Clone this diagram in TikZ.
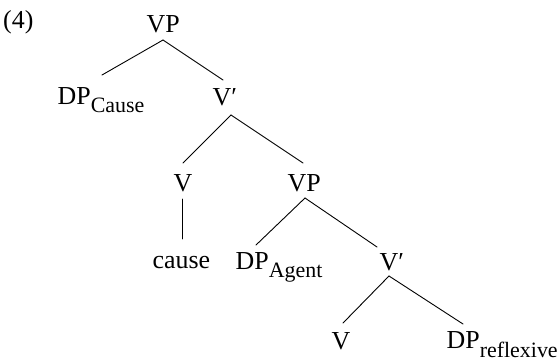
\documentclass[tikz,border=0pt]{standalone}
\usepackage{fontspec}
\setmainfont{Liberation Serif}
\usetikzlibrary{calc}
\newcommand{\sbs}[1]{\raisebox{-8.5bp}{\fontsize{22}{22}\selectfont #1}}
\tikzset{
  lbl/.style={inner sep=0pt, anchor=base west, font=\fontsize{26}{30}\selectfont},
  branch/.style={line width=0.9bp, line cap=round}
}
\begin{document}
\begin{tikzpicture}[x=1bp, y=-1bp]
\useasboundingbox (0,0) rectangle (558,359);

% example number
\node[lbl] (num) at (3,28.5) {(4)};

% tree labels
\node[lbl] (vp1) at (146.5,32) {VP};
\node[lbl] (dpc) at (57.5,104) {DP\sbs{Cause}};
\node[lbl] (vb1) at (212.5,105) {V′};
\node[lbl] (v1) at (173.5,191) {V};
\node[lbl] (vp2) at (287.5,191) {VP};
\node[lbl] (cause) at (152.5,268) {cause};
\node[lbl] (dpa) at (235.5,269) {DP\sbs{Agent}};
\node[lbl] (vb2) at (379.5,270) {V′};
\node[lbl] (v2) at (331.5,349) {V};
\node[lbl] (dpr) at (446.5,348.5) {DP\sbs{reflexive}};

% branches
\draw[branch] ($(vp1.base west)+(16.5,8)$) -- ($(dpc.base west)+(44.5,-29)$);
\draw[branch] ($(vp1.base west)+(16.5,8)$) -- ($(vb1.base west)+(10.5,-25)$);

\draw[branch] ($(vb1.base west)+(18.5,10)$) -- ($(v1.base west)+(9.5,-28)$);
\draw[branch] ($(vb1.base west)+(18.5,10)$) -- ($(vp2.base west)+(15.5,-28)$);

\draw[branch] ($(v1.base west)+(9,8)$) -- ($(cause.base west)+(30,-29)$);

\draw[branch] ($(vp2.base west)+(17.5,7)$) -- ($(dpa.base west)+(20.5,-24)$);
\draw[branch] ($(vp2.base west)+(17.5,7)$) -- ($(vb2.base west)+(-2.5,-23)$);

\draw[branch] ($(vb2.base west)+(9.5,6)$) -- ($(v2.base west)+(11.5,-26)$);
\draw[branch] ($(vb2.base west)+(9.5,6)$) -- ($(dpr.base west)+(16.5,-24.5)$);
\end{tikzpicture}
\end{document}
